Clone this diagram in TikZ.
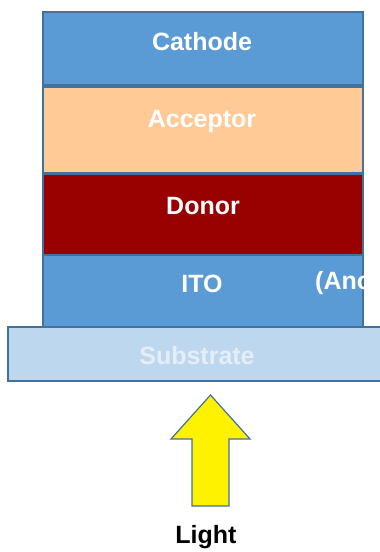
\documentclass[tikz,border=0pt]{standalone}
\usepackage{fontspec}
\setmainfont{Liberation Sans}
\usetikzlibrary{positioning}

\definecolor{layerblue}{HTML}{5B9BD5}
\definecolor{edgeblue}{HTML}{41719C}
\definecolor{peach}{HTML}{FFCA96}
\definecolor{donorred}{HTML}{990000}
\definecolor{paleblue}{HTML}{BDD7EE}
\definecolor{paletext}{HTML}{E4EEF8}

\begin{document}
\begin{tikzpicture}[
      x=1pt, y=-1pt,
      font=\fontsize{25}{30}\selectfont\bfseries,
      layer/.style={rectangle, draw=edgeblue, line width=1.6pt, minimum width=320pt, inner sep=0pt},
      caption/.style={text=white, inner sep=0pt},
      lightarrow/.style={draw=edgeblue, line width=1.2pt, fill=yellow, line join=miter}
    ]
      \useasboundingbox (0,0) rectangle (380,552);
      \clip (0,0) rectangle (380,552);

      % the stack
      \node (cathode) [layer, fill=layerblue, minimum height=73pt] at (203,48.5) {};
      \node (acceptor) [layer, fill=peach, minimum height=86pt] at (203,130) {};
      \node (donor) [layer, fill=donorred, minimum height=80pt] at (203,214.5) {};
      \node (ito) [layer, fill=layerblue, minimum height=72pt] at (203,291) {};
      \node (substrate) [layer, fill=paleblue, minimum width=382pt, minimum height=54pt] at (199,354) {};

      \node (cathodetext) [caption] at (202,42) {Cathode};
      \node (acceptortext) [caption] at (202,121) {Acceptor};
      \node (donortext) [caption] at (203,206) {Donor};
      \node (itotext) [caption] at (202,284) {ITO};
      \node (anodetext) [caption, anchor=west] at (315,283) {(Anode)};
      \node (substratetext) [caption, text=paletext] at (197,356) {Substrate};

      % light from below
      \draw [lightarrow] (210.5,395) -- (250,439) -- (229,439) -- (229,506)
            -- (192,506) -- (192,439) -- (171,439) -- cycle;
      \node (light) [inner sep=0pt, text=black] at (206,537) {Light};
    \end{tikzpicture}
\end{document}
